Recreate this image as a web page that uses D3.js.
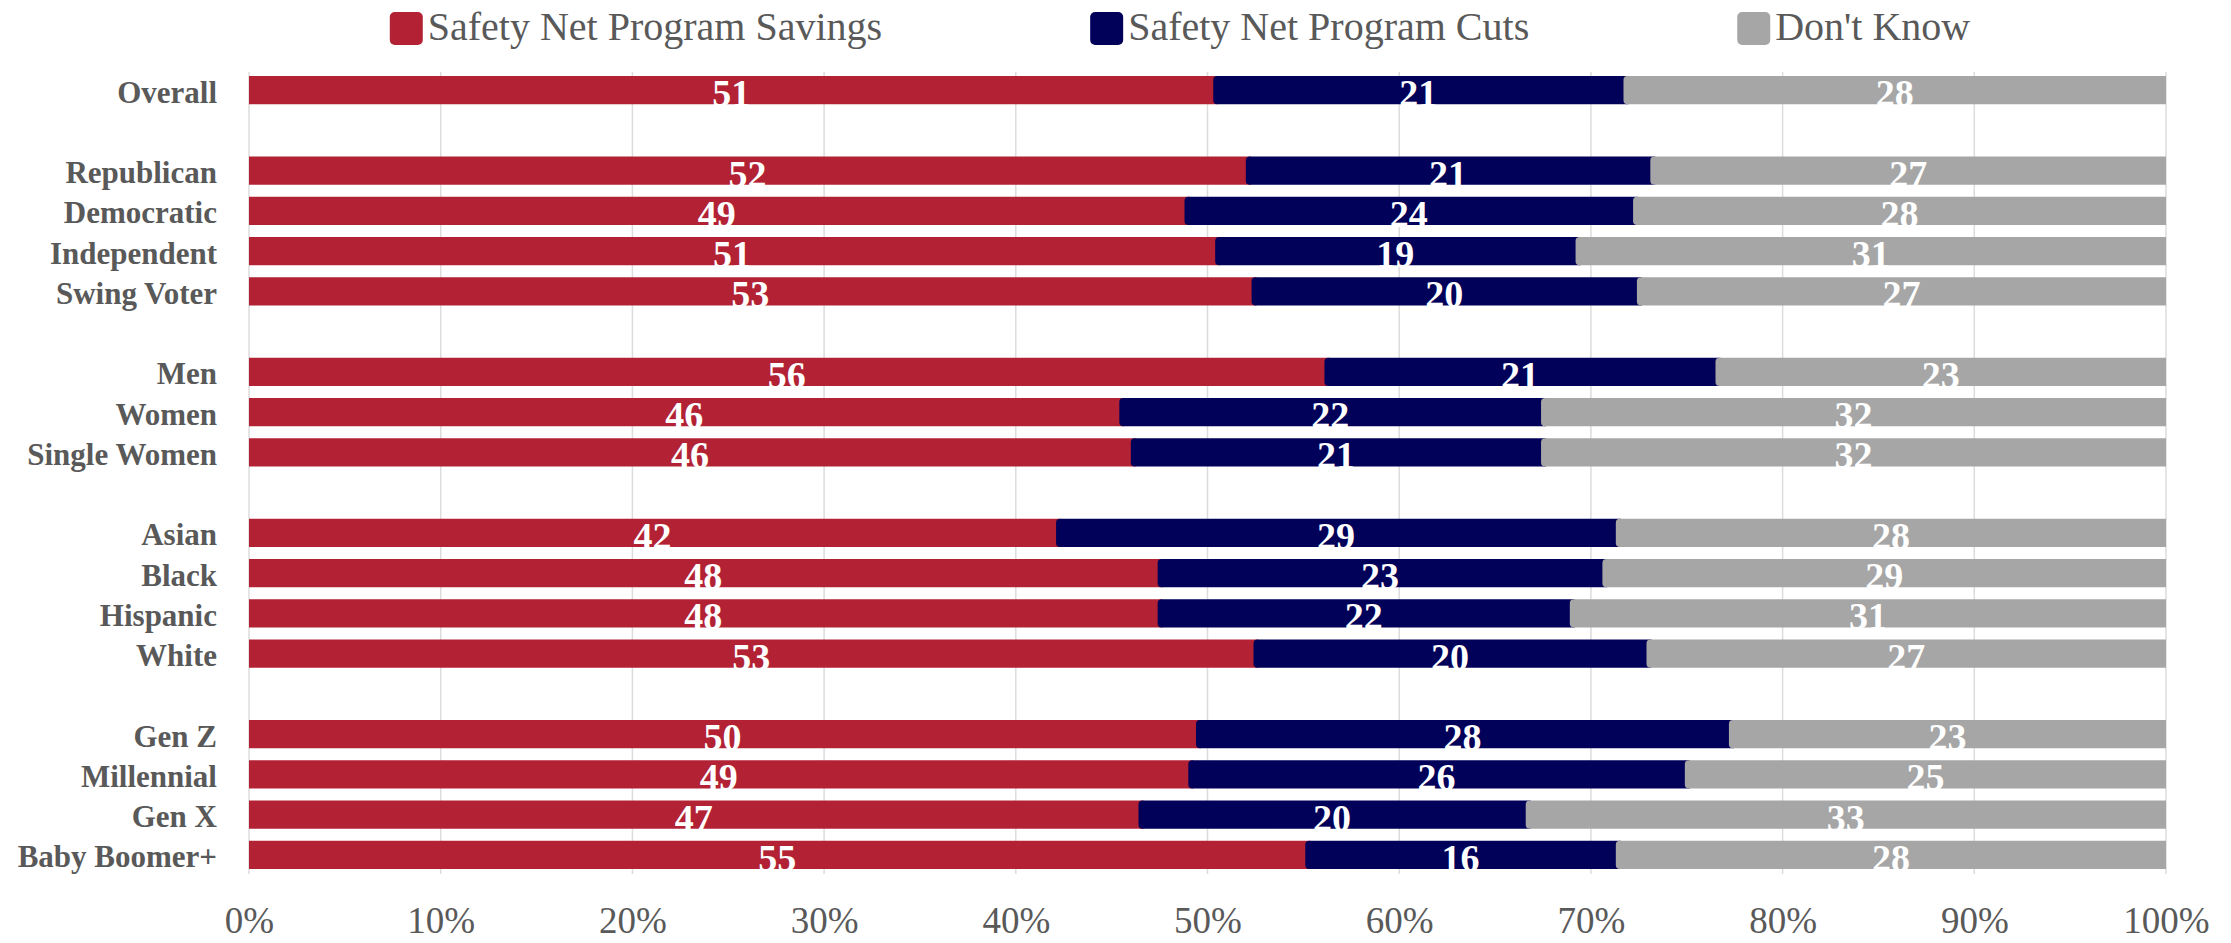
<!DOCTYPE html>
<html>
<head>
<meta charset="utf-8">
<script src="https://cdn.jsdelivr.net/npm/d3@7"></script>
<style>
	body { margin: 0; background: #fff; }
	svg { display: block; font-family: "Liberation Serif", "Times New Roman", serif; }
</style>
</head>
<body>
<script>
// rows top to bottom, null = spacer between groups
var slots = ['Overall', null,
	'Republican', 'Democratic', 'Independent', 'Swing Voter', null,
	'Men', 'Women', 'Single Women', null,
	'Asian', 'Black', 'Hispanic', 'White', null,
	'Gen Z', 'Millennial', 'Gen X', 'Baby Boomer+'];

var seriesNames = ['Safety Net Program Savings', 'Safety Net Program Cuts', "Don't Know"];
var colors = ['#B22234', '#020159', '#A6A6A6'];

// printed values (rounded)
var savingsLabel = [51, 52, 49, 51, 53, 56, 46, 46, 42, 48, 48, 53, 50, 49, 47, 55];
var cutsLabel    = [21, 21, 24, 19, 20, 21, 22, 21, 29, 23, 22, 20, 28, 26, 20, 16];
var dkLabel      = [28, 27, 28, 31, 27, 23, 32, 32, 28, 29, 31, 27, 23, 25, 33, 28];

// bar shares as drawn (percent of row)
var savingsShare = [50.3, 52.0, 48.8, 50.4, 52.3, 56.1, 45.4, 46.0, 42.1, 47.4, 47.4, 52.4, 49.4, 49.0, 46.4, 55.1];
var cutsShare    = [21.4, 21.1, 23.4, 18.8, 20.1, 20.4, 22.0, 21.4, 29.2, 23.2, 21.5, 20.5, 27.8, 25.9, 20.2, 16.2];
var dkShare      = [28.3, 26.9, 27.8, 30.8, 27.6, 23.5, 32.6, 32.6, 28.7, 29.4, 31.1, 27.1, 22.8, 25.1, 33.4, 28.7];

var xTicks = [0, 10, 20, 30, 40, 50, 60, 70, 80, 90, 100];

var width = 2231, height = 943;
var textColor = '#595959';

var svg = d3.select('body').append('svg')
	.attr('width', width)
	.attr('height', height);

var x = d3.scaleLinear().domain([0, 100]).range([249, 2166]);
var y = d3.scaleBand().domain(d3.range(slots.length))
	.range([70, 875])
	.paddingInner(0.304)
	.paddingOuter(0.152);

// vertical gridlines
svg.append('g').selectAll('line').data(xTicks).enter()
	.append('line')
	.attr('x1', function(d) { return x(d); })
	.attr('x2', function(d) { return x(d); })
	.attr('y1', 72)
	.attr('y2', 874)
	.attr('stroke', '#dcdcdc')
	.attr('stroke-width', 1.5);

// map data rows onto their slot index
var rowSlots = [];
slots.forEach(function(s, i) { if (s !== null) rowSlots.push(i); });

var rows = rowSlots.map(function(slot, i) {
	var shares = [savingsShare[i], cutsShare[i], dkShare[i]];
	var labels = [savingsLabel[i], cutsLabel[i], dkLabel[i]];
	var total = d3.sum(shares);
	var acc = 0;
	var segs = shares.map(function(v, k) {
		var s = { k: k, x0: acc / total * 100, x1: (acc + v) / total * 100, label: labels[k] };
		acc += v;
		return s;
	});
	return { slot: slot, segs: segs };
});

// bar segment with optional rounded left corners
function segPath(x0, x1, y0, h, r) {
	if (!r) return 'M' + x0 + ',' + y0 + 'H' + x1 + 'V' + (y0 + h) + 'H' + x0 + 'Z';
	return 'M' + (x0 + r) + ',' + y0 + 'H' + x1 + 'V' + (y0 + h) + 'H' + (x0 + r) +
		'Q' + x0 + ',' + (y0 + h) + ' ' + x0 + ',' + (y0 + h - r) +
		'V' + (y0 + r) + 'Q' + x0 + ',' + y0 + ' ' + (x0 + r) + ',' + y0 + 'Z';
}

var bars = svg.append('g').selectAll('.row').data(rows).enter()
	.append('g').attr('class', 'row');

bars.selectAll('path').data(function(d) { return d.segs.map(function(s) { return { s: s, slot: d.slot }; }); })
	.enter().append('path')
	.attr('d', function(d) {
		var x0 = x(d.s.x0);
		var x1 = d.s.k < 2 ? x(d.s.x1) + 5 : x(d.s.x1);
		return segPath(x0, x1, y(d.slot), y.bandwidth(), d.s.k === 0 ? 0 : 4);
	})
	.attr('fill', function(d) { return colors[d.s.k]; });

bars.selectAll('text').data(function(d) { return d.segs.map(function(s) { return { s: s, slot: d.slot }; }); })
	.enter().append('text')
	.attr('x', function(d) { return (x(d.s.x0) + x(d.s.x1)) / 2; })
	.attr('y', function(d) { return y(d.slot) + y.bandwidth() / 2 + 16; })
	.attr('text-anchor', 'middle')
	.attr('fill', '#fff')
	.attr('font-weight', 'bold')
	.attr('font-size', '38px')
	.text(function(d) { return d.s.label; });

// category labels
var yAxis = d3.axisLeft(y)
	.tickValues(rowSlots)
	.tickFormat(function(i) { return slots[i]; })
	.tickSize(0)
	.tickPadding(0);

var yg = svg.append('g')
	.attr('transform', 'translate(217,0)')
	.call(yAxis);
yg.select('.domain').remove();
yg.selectAll('text')
	.attr('dy', '0.4em')
	.attr('fill', textColor)
	.attr('font-family', '"Liberation Serif", serif')
	.attr('font-weight', 'bold')
	.attr('font-size', '31px');

// percent axis
var xAxis = d3.axisBottom(x)
	.tickValues(xTicks)
	.tickFormat(function(d) { return d + '%'; })
	.tickSize(0);

var xg = svg.append('g').call(xAxis);
xg.select('.domain').remove();
xg.selectAll('text')
	.attr('y', 933)
	.attr('dy', null)
	.attr('fill', textColor)
	.attr('font-family', '"Liberation Serif", serif')
	.attr('font-size', '37px');

// legend, centered
var legend = svg.append('g');
var items = legend.selectAll('g').data(seriesNames).enter().append('g');
items.append('rect')
	.attr('width', 33).attr('height', 33)
	.attr('y', 12)
	.attr('rx', 5)
	.attr('fill', function(d, i) { return colors[i]; });
items.append('text')
	.attr('x', 38)
	.attr('y', 40)
	.attr('fill', textColor)
	.attr('font-size', '40px')
	.text(function(d) { return d; });

var gap = 208;
var widths = [];
items.each(function() {
	widths.push(38 + d3.select(this).select('text').node().getComputedTextLength());
});
var total = d3.sum(widths) + gap * (widths.length - 1);
var pos = 1180 - total / 2;
items.attr('transform', function(d, i) {
	var t = 'translate(' + pos + ',0)';
	pos += widths[i] + gap;
	return t;
});
</script>
</body>
</html>
